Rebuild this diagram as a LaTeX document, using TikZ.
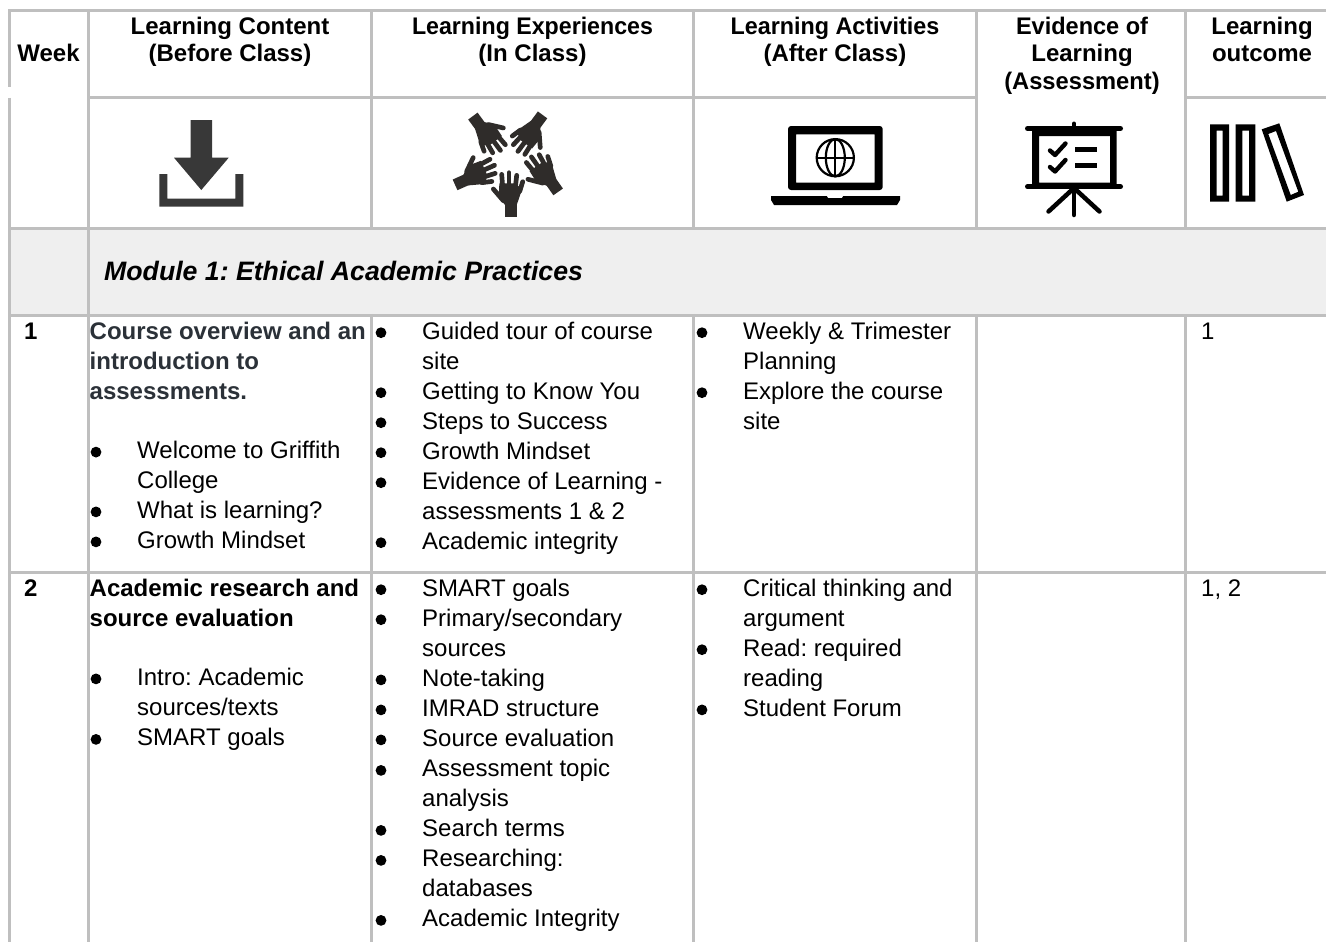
\documentclass[tikz,border=0pt]{standalone}
\usepackage{fontspec}
\setmainfont{Liberation Sans}
\definecolor{gridc}{HTML}{BFBFBF}
\definecolor{modfill}{HTML}{EFEFEF}
\definecolor{headink}{HTML}{2B3138}
\definecolor{dlink}{HTML}{383838}
\definecolor{handink}{HTML}{2F2C2A}
\newcounter{tn}
\tikzset{
  grid/.style={draw=gridc,line width=3pt},
  bodyt/.style={anchor=base west,inner sep=0pt,font=\frenchspacing\fontsize{24}{30}\selectfont},
  boldt/.style={bodyt,font=\frenchspacing\fontsize{24}{30}\selectfont\bfseries},
  headt/.style={anchor=base,inner sep=0pt,font=\frenchspacing\fontsize{24}{28}\selectfont\bfseries,transform shape},
  finger/.style={draw=handink,line width=4.7pt,line cap=round},
  iconk/.style={fill=black,draw=none},
  iconl/.style={draw=black,line cap=round,line join=round}
}
\newcommand{\tx}[4][]{\stepcounter{tn}\node[bodyt,#1] (t\arabic{tn}) at (#2,#3+0.7) {#4};}
\newcommand{\bt}[4][]{\stepcounter{tn}\node[boldt,#1] (t\arabic{tn}) at (#2,#3+0.7) {#4};}
\newcommand{\hd}[4][1]{\stepcounter{tn}\node[headt,xscale=#1] (t\arabic{tn}) at (#2,#3+1) {#4};}
\newcommand{\bu}[2]{\fill (#1,#2-5.6) circle[radius=5.4pt];}
\newcommand{\li}[3]{\bu{#1}{#3}\tx{#1+41}{#3}{#2}}
\newcommand{\handicon}[3]{%
  \begin{scope}[shift={(#1,#2)},rotate=#3,scale=0.3333]
    \fill[handink] (-17,-40) -- (18,-40) -- (18,0) -- (-17,0) -- cycle;
    \fill[handink] (-17,-35) -- (18,-35) -- (30,-70) -- (36,-84) -- (10,-100) -- (-34,-100) -- (-36,-60) -- cycle;
    \draw[finger] (-24,-88) -- (-27,-127);
    \draw[finger] (-5,-90) -- (-5,-132);
    \draw[finger] (14,-88) -- (18,-124);
    \draw[finger] (27,-76) -- (36,-105);
    \draw[finger] (-22,-48) -- (-52,-83);
  \end{scope}}
\begin{document}
\begin{tikzpicture}[x=1pt,y=-1pt]
\useasboundingbox (0,0) rectangle (1326,942);
\fill[white] (0,0) rectangle (1326,942);
% module band
\fill[modfill] (9,228) rectangle (1326,315);
% grid
\draw[grid] (8,11) -- (1326,11);
\draw[grid] (88,97.7) -- (976,97.7);
\draw[grid] (1185.5,97.7) -- (1326,97.7);
\draw[grid] (8,228) -- (1326,228);
\draw[grid] (8,315.3) -- (1326,315.3);
\draw[grid] (8,572.7) -- (1326,572.7);
\draw[grid] (9.3,9.5) -- (9.3,87);
\draw[grid] (9.3,98) -- (9.3,942);
\draw[grid] (88.4,9.5) -- (88.4,942);
\foreach \vx in {371.5,693,976,1185.5}{
  \draw[grid] (\vx,9.5) -- (\vx,229.5);
  \draw[grid] (\vx,313.8) -- (\vx,942);
}
% headers
\hd{48.5}{61}{Week}
\hd{230}{33.3}{Learning Content}
\hd{230}{61}{(Before Class)}
\hd[0.966]{532.5}{33.3}{Learning Experiences}
\hd{532.5}{61}{(In Class)}
\hd[0.972]{835}{33.3}{Learning Activities}
\hd{835}{61}{(After Class)}
\hd[0.98]{1082}{33.3}{Evidence of}
\hd{1082}{61}{Learning}
\hd[0.987]{1082}{88.2}{(Assessment)}
\hd{1262}{33.3}{Learning}
\hd{1262}{61}{outcome}
% download icon
\fill[dlink] (190.7,120) -- (212,120) -- (212,157.7) -- (228.7,157.7) -- (201.3,190) -- (174,157.7) -- (190.7,157.7) -- cycle;
\fill[dlink] (159.3,174) -- (167.3,174) -- (167.3,198.7) -- (235.3,198.7) -- (235.3,174) -- (243.3,174) -- (243.3,206.7) -- (159.3,206.7) -- cycle;
% hands icon
\handicon{510.7}{216.7}{0}
\handicon{558}{192}{35}
\handicon{542.7}{115}{143.6}
\handicon{473}{116}{216.4}
\handicon{455}{184.7}{294}
% laptop icon
\fill[iconk,even odd rule] [rounded corners=3pt] (788,190) -- (788,126) -- (882.7,126) -- (882.7,190) -- cycle [sharp corners] (796,134.3) rectangle (874.7,182.7);
\fill[iconk] (771,196) -- (826.7,196) -- (828,198) -- (842,198) -- (843.3,196) -- (900,196) -- (900,200) -- (897,205) -- (774,205) -- (771,200) -- cycle;
\draw[iconl,line width=2.2pt] (835.3,157.7) circle[radius=18.6pt];
\draw[iconl,line width=2.2pt] (835.3,157.7) ellipse[x radius=9.5pt,y radius=18.6pt];
\draw[iconl,line width=2.2pt] (835.3,139) -- (835.3,176.4);
\draw[iconl,line width=2.2pt] (817,157.7) -- (853.6,157.7);
% easel icon
\draw[iconl,line width=5pt] (1027.5,128.5) -- (1120.5,128.5);
\draw[iconl,line width=5pt] (1027.5,186.7) -- (1120.5,186.7);
\draw[iconl,line width=4pt] (1074,123.5) -- (1074,128);
\fill[iconk,even odd rule] (1032,128) rectangle (1116.7,187) (1039,136) rectangle (1110,182.7);
\draw[iconl,line width=4.5pt] (1074,188) -- (1074,215);
\draw[iconl,line width=4.5pt] (1074,188) -- (1048.5,211.5);
\draw[iconl,line width=4.5pt] (1074,188) -- (1099.5,211.5);
\draw[iconl,line width=4.4pt] (1050,150.5) -- (1055,155) -- (1065.5,143.5);
\draw[iconl,line width=4.4pt] (1050,167) -- (1055,171.5) -- (1065.5,160);
\fill[iconk] (1075,146.9) rectangle (1097.3,151.9);
\fill[iconk] (1075,163.2) rectangle (1097.3,168.2);
% books icon
\fill[iconk,even odd rule] (1210,124.3) rectangle (1229,201.7) (1216.7,130.7) rectangle (1222.7,195.7);
\fill[iconk,even odd rule] (1235.7,124.3) rectangle (1255.3,201.7) (1242.3,130.7) rectangle (1249,195.7);
\fill[iconk,even odd rule] (1261.7,129.3) -- (1279.3,123.3) -- (1304,195) -- (1286.7,201.7) -- cycle (1268.3,134) -- (1276,131) -- (1298.3,191.7) -- (1290.7,195) -- cycle;
% module title
\stepcounter{tn}\node[anchor=base west,inner sep=0pt,font=\frenchspacing\fontsize{26.67}{30}\selectfont\bfseries\itshape] (t\arabic{tn}) at (104,280) {Module 1: Ethical Academic Practices};
% week 1
\bt{24}{338.3}{1}
\bt[text=headink]{89.5}{338.3}{Course overview and an}
\bt[text=headink]{89.5}{368.3}{introduction to}
\bt[text=headink]{89.5}{398.3}{assessments.}
\li{96}{Welcome to Griffith}{457.7}
\tx{137}{487.7}{College}
\li{96}{What is learning?}{517.5}
\li{96}{Growth Mindset}{547.5}
\li{381}{Guided tour of course}{338.3}
\tx{422}{368.3}{site}
\li{381}{Getting to Know You}{398.3}
\li{381}{Steps to Success}{428.3}
\li{381}{Growth Mindset}{458.3}
\li{381}{Evidence of Learning -}{488.3}
\tx{422}{518.3}{assessments 1 \& 2}
\li{381}{Academic integrity}{548.3}
\li{702}{Weekly \& Trimester}{338.3}
\tx{743}{368.3}{Planning}
\li{702}{Explore the course}{398.3}
\tx{743}{428.3}{site}
\tx{1201}{338.3}{1}
% week 2
\bt{24}{595.3}{2}
\bt{89.5}{595.3}{Academic research and}
\bt{89.5}{625.3}{source evaluation}
\li{96}{Intro: Academic}{684.5}
\tx{137}{714.5}{sources/texts}
\li{96}{SMART goals}{745}
\li{381}{SMART goals}{595.3}
\li{381}{Primary/secondary}{625.3}
\tx{422}{655.3}{sources}
\li{381}{Note-taking}{685.5}
\li{381}{IMRAD structure}{715.5}
\li{381}{Source evaluation}{745.5}
\li{381}{Assessment topic}{776}
\tx{422}{806}{analysis}
\li{381}{Search terms}{836}
\li{381}{Researching:}{866}
\tx{422}{896}{databases}
\li{381}{Academic Integrity}{926}
\li{702}{Critical thinking and}{595.3}
\tx{743}{625.3}{argument}
\li{702}{Read: required}{655.3}
\tx{743}{685.3}{reading}
\li{702}{Student Forum}{715.5}
\tx{1201}{595.3}{1, 2}
\end{tikzpicture}
\end{document}
